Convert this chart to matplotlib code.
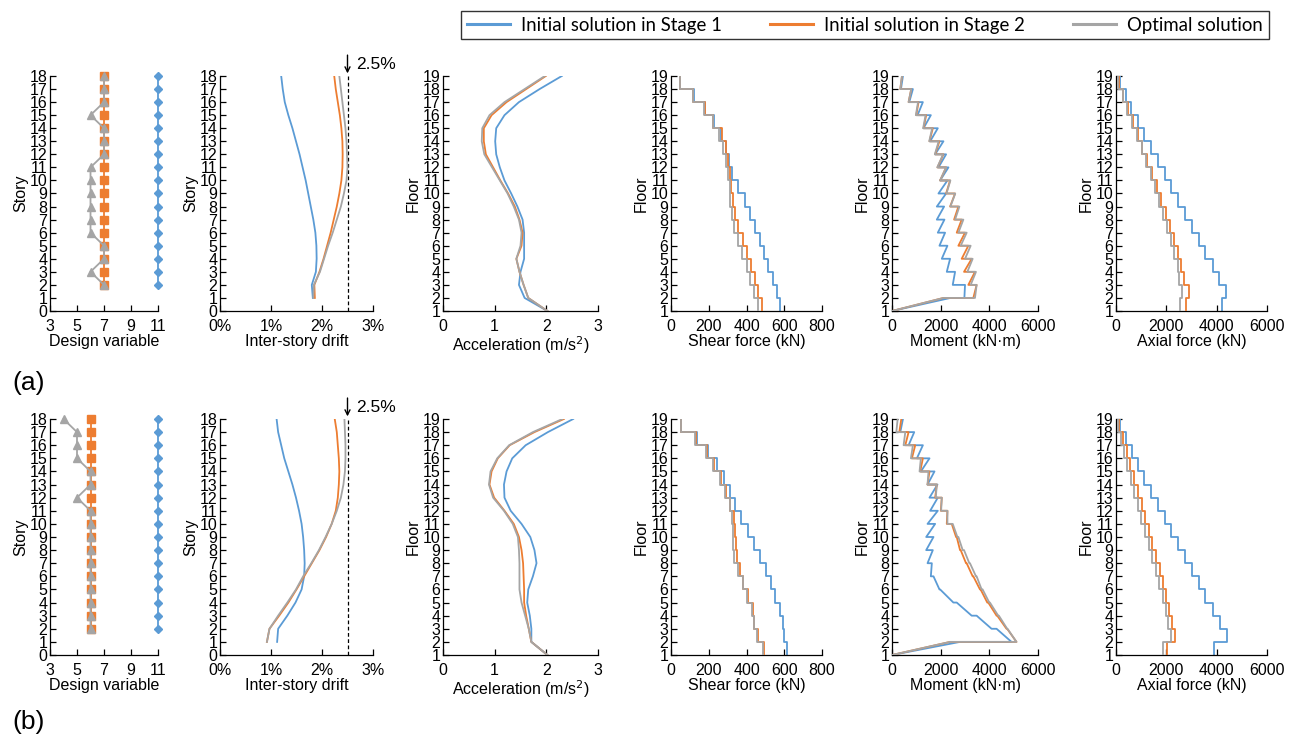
import numpy as np
import matplotlib
matplotlib.use("Agg")
import matplotlib.pyplot as plt
from matplotlib.ticker import FuncFormatter

plt.rcParams['font.family'] = ['Liberation Sans', 'DejaVu Sans']

BLUE = '#5B9BD5'
ORANGE = '#ED7D31'
GREY = '#A5A5A5'

# ---------------- data ----------------
stories_dv = list(range(2, 19))          # design variable, stories 2..18
stories = list(range(1, 19))             # stories 1..18
floors = list(range(1, 20))              # floors 1..19

# row (a)
dv_blue_a = [11] * 17
dv_orange_a = [7] * 17
dv_grey_a = [7, 6, 7, 7, 6, 6, 6, 6, 6, 6, 7, 7, 7, 6, 7, 7, 7]

drift_blue_a = [1.82, 1.80, 1.88, 1.895, 1.89, 1.87, 1.83, 1.78, 1.73, 1.68, 1.62, 1.56, 1.49, 1.42, 1.34, 1.27, 1.23, 1.20]
drift_orange_a = [1.86, 1.85, 1.95, 2.03, 2.10, 2.17, 2.23, 2.29, 2.34, 2.38, 2.40, 2.405, 2.40, 2.38, 2.35, 2.31, 2.27, 2.24]
drift_grey_a = [1.83, 1.84, 1.96, 2.04, 2.12, 2.21, 2.29, 2.37, 2.43, 2.48, 2.50, 2.49, 2.48, 2.46, 2.43, 2.40, 2.37, 2.34]

acc_blue_a = [2.02, 1.58, 1.47, 1.50, 1.57, 1.57, 1.57, 1.54, 1.44, 1.32, 1.19, 1.10, 1.03, 1.01, 1.03, 1.19, 1.47, 1.87, 2.30]
acc_orange_a = [2.02, 1.65, 1.56, 1.48, 1.42, 1.52, 1.54, 1.48, 1.39, 1.26, 1.11, 0.97, 0.83, 0.79, 0.79, 0.94, 1.23, 1.61, 1.99]
acc_grey_a = [2.02, 1.65, 1.56, 1.48, 1.42, 1.50, 1.52, 1.47, 1.37, 1.25, 1.10, 0.95, 0.80, 0.75, 0.76, 0.90, 1.19, 1.58, 1.97]

shear_blue_a = [575, 560, 540, 515, 495, 470, 445, 418, 393, 355, 322, 309, 292, 263, 230, 180, 122, 48]
shear_orange_a = [481, 462, 445, 425, 400, 380, 355, 340, 328, 320, 310, 303, 290, 272, 225, 178, 118, 48]
shear_grey_a = [460, 440, 420, 400, 378, 355, 335, 322, 315, 310, 303, 290, 275, 255, 222, 175, 115, 48]

mom_top_blue_a = [2400, 3001, 2592, 2387, 2278, 2182, 2155, 2141, 2223, 2278, 2319, 2223, 2114, 1882, 1596, 1269, 859, 450]
mom_bot_blue_a = [0, 2974, 2496, 2251, 2046, 1950, 1883, 1842, 1842, 1910, 1978, 1910, 1773, 1569, 1296, 1050, 709, 368]
mom_top_orange_a = [2114, 3478, 3410, 3274, 3137, 3001, 2864, 2728, 2592, 2387, 2223, 2114, 1950, 1678, 1405, 1091, 791, 409]
mom_bot_orange_a = [0, 3342, 3137, 2960, 2864, 2728, 2660, 2551, 2387, 2223, 1978, 1869, 1773, 1541, 1296, 996, 682, 341]
mom_top_grey_a = [2114, 3478, 3451, 3315, 3233, 3069, 2933, 2769, 2600, 2400, 2223, 2100, 1920, 1650, 1380, 1070, 791, 409]
mom_bot_grey_a = [0, 3410, 3233, 3096, 3001, 2823, 2728, 2592, 2400, 2240, 1978, 1860, 1760, 1530, 1280, 980, 682, 341]

axial_blue_a = [4197, 4382, 4104, 3838, 3546, 3280, 3015, 2749, 2483, 2191, 1952, 1660, 1394, 1116, 863, 598, 385, 159]
axial_orange_a = [2789, 2882, 2709, 2576, 2483, 2324, 2151, 1979, 1793, 1620, 1448, 1248, 1049, 863, 664, 465, 292, 133]
axial_grey_a = [2550, 2616, 2523, 2444, 2324, 2178, 2019, 1859, 1713, 1554, 1381, 1195, 1023, 823, 624, 425, 266, 93]

# row (b)
dv_blue_b = [11] * 17
dv_orange_b = [6] * 17
dv_grey_b = [6, 6, 6, 6, 6, 6, 6, 6, 6, 6, 5, 6, 6, 5, 5, 5, 4]

drift_blue_b = [1.12, 1.14, 1.32, 1.48, 1.60, 1.65, 1.66, 1.65, 1.63, 1.60, 1.55, 1.49, 1.42, 1.34, 1.26, 1.20, 1.14, 1.11]
drift_orange_b = [0.92, 0.97, 1.16, 1.34, 1.50, 1.65, 1.80, 1.95, 2.08, 2.19, 2.27, 2.31, 2.33, 2.34, 2.33, 2.31, 2.29, 2.25]
drift_grey_b = [0.92, 0.97, 1.14, 1.32, 1.49, 1.63, 1.79, 1.94, 2.07, 2.19, 2.29, 2.37, 2.42, 2.45, 2.46, 2.46, 2.45, 2.44]

acc_blue_b = [2.02, 1.71, 1.71, 1.68, 1.63, 1.65, 1.74, 1.81, 1.77, 1.69, 1.52, 1.31, 1.19, 1.18, 1.23, 1.34, 1.60, 2.03, 2.52]
acc_orange_b = [2.02, 1.71, 1.66, 1.61, 1.57, 1.57, 1.56, 1.55, 1.52, 1.47, 1.37, 1.19, 0.99, 0.90, 0.94, 1.06, 1.29, 1.77, 2.34]
acc_grey_b = [2.02, 1.71, 1.66, 1.59, 1.52, 1.48, 1.48, 1.48, 1.47, 1.45, 1.35, 1.18, 0.97, 0.89, 0.92, 1.05, 1.28, 1.74, 2.31]

shear_blue_b = [614, 600, 593, 575, 552, 529, 503, 473, 441, 407, 370, 340, 310, 283, 242, 198, 136, 51]
shear_orange_b = [494, 460, 442, 432, 407, 384, 363, 352, 343, 340, 336, 313, 292, 265, 230, 190, 130, 51]
shear_grey_b = [487, 455, 440, 428, 402, 379, 357, 336, 331, 327, 322, 310, 288, 262, 225, 185, 128, 51]

mom_top_blue_b = [2796, 4297, 3478, 2660, 1978, 1705, 1637, 1678, 1705, 1773, 1882, 1882, 1869, 1746, 1541, 1269, 914, 450]
mom_bot_blue_b = [0, 4911, 4092, 3274, 2523, 1950, 1596, 1460, 1405, 1405, 1460, 1569, 1541, 1460, 1187, 1023, 682, 341]
mom_top_orange_b = [2387, 4733, 4324, 3956, 3642, 3342, 3069, 2823, 2660, 2455, 2278, 2046, 1841, 1541, 1269, 955, 682, 382]
mom_bot_orange_b = [0, 5115, 4706, 4297, 3915, 3615, 3315, 3042, 2796, 2633, 2251, 2005, 1773, 1460, 1160, 818, 546, 300]
mom_top_grey_b = [2387, 4747, 4392, 4024, 3724, 3478, 3205, 2960, 2728, 2496, 2278, 2046, 1841, 1500, 1187, 859, 546, 232]
mom_bot_grey_b = [0, 5115, 4733, 4365, 3997, 3683, 3451, 3178, 2905, 2687, 2278, 2019, 1800, 1460, 1132, 777, 477, 177]

axial_blue_b = [3904, 4409, 4143, 3851, 3546, 3280, 3015, 2749, 2457, 2191, 1952, 1660, 1394, 1129, 890, 624, 385, 159]
axial_orange_b = [2019, 2351, 2218, 2112, 1992, 1886, 1753, 1594, 1448, 1315, 1155, 1023, 863, 717, 558, 425, 266, 133]
axial_grey_b = [1886, 2191, 2085, 1979, 1859, 1727, 1594, 1448, 1301, 1155, 996, 863, 717, 584, 452, 319, 186, 66]

legend_labels = ['Initial solution in Stage 1', 'Initial solution in Stage 2', 'Optimal solution']
drift_limit = 2.5

# ---------------- helpers ----------------
W, H = 1293, 742
fig = plt.figure(figsize=(W / 100, H / 100), dpi=100)


def add_ax(x0, x1, ytop, ybot):
    return fig.add_axes([x0 / W, 1 - ybot / H, (x1 - x0) / W, (ybot - ytop) / H])


def style(ax, xlim, xticks, ylim, ylabel, xlabel):
    ax.set_xlim(*xlim)
    ax.set_xticks(xticks)
    ax.set_ylim(*ylim)
    ax.set_yticks(range(ylim[0], ylim[1] + 1))
    for s in ('top', 'right'):
        ax.spines[s].set_visible(False)
    for s in ('left', 'bottom'):
        ax.spines[s].set_color('#000000')
        ax.spines[s].set_linewidth(0.9)
    ax.tick_params(direction='in', length=4, width=0.9, labelsize=11.5, colors='black')
    ax.tick_params(axis='x', pad=6)
    ax.tick_params(axis='y', pad=2)
    ax.set_ylabel(ylabel, fontsize=11.5, labelpad=1)
    ax.set_xlabel(xlabel, fontsize=11.5, labelpad=0)
    ax.patch.set_alpha(0)


def shear_xy(vals):
    s = np.array(stories)[::-1]
    v = np.array(vals, dtype=float)[::-1]
    x = np.repeat(v, 2)
    y = np.column_stack([s + 1, s]).ravel()
    return x, y


def moment_xy(top, bot):
    s = np.array(stories)[::-1]
    t = np.array(top, dtype=float)[::-1]
    b = np.array(bot, dtype=float)[::-1]
    x = np.column_stack([t, b]).ravel()
    y = np.column_stack([s + 1, s]).ravel()
    return x, y


cols = [(50, 158), (220, 373), (443, 598), (671, 822), (892, 1038), (1116, 1267)]
rows = [(76, 311), (419, 655)]

datasets = [
    dict(dv=(dv_blue_a, dv_orange_a, dv_grey_a), drift=(drift_blue_a, drift_orange_a, drift_grey_a),
         acc=(acc_blue_a, acc_orange_a, acc_grey_a), shear=(shear_blue_a, shear_orange_a, shear_grey_a),
         mom=((mom_top_blue_a, mom_bot_blue_a), (mom_top_orange_a, mom_bot_orange_a), (mom_top_grey_a, mom_bot_grey_a)),
         axial=(axial_blue_a, axial_orange_a, axial_grey_a)),
    dict(dv=(dv_blue_b, dv_orange_b, dv_grey_b), drift=(drift_blue_b, drift_orange_b, drift_grey_b),
         acc=(acc_blue_b, acc_orange_b, acc_grey_b), shear=(shear_blue_b, shear_orange_b, shear_grey_b),
         mom=((mom_top_blue_b, mom_bot_blue_b), (mom_top_orange_b, mom_bot_orange_b), (mom_top_grey_b, mom_bot_grey_b)),
         axial=(axial_blue_b, axial_orange_b, axial_grey_b)),
]

colors = [BLUE, ORANGE, GREY]
LW = 1.3
handles = []

for r, (ytop, ybot) in enumerate(rows):
    d = datasets[r]

    # design variable
    ax = add_ax(*cols[0], ytop, ybot)
    ax.plot(d['dv'][0], stories_dv, color=BLUE, lw=LW, marker='D', ms=4, zorder=2, clip_on=False)
    ax.plot(d['dv'][1], stories_dv, color=ORANGE, lw=LW, marker='s', ms=5.5, zorder=3, clip_on=False)
    ax.plot(d['dv'][2], stories_dv, color=GREY, lw=LW, marker='^', ms=5.5, zorder=4, clip_on=False)
    style(ax, (3, 11), [3, 5, 7, 9, 11], (0, 18), 'Story', 'Design variable')

    # drift
    ax = add_ax(*cols[1], ytop, ybot)
    for c, vals, z in zip(colors, d['drift'], (2, 3, 4)):
        h, = ax.plot(vals, stories, color=c, lw=LW, zorder=z)
        if r == 0:
            handles.append(h)
    ax.axvline(drift_limit, color='black', lw=0.9, ls=(0, (3, 2)))
    ax.xaxis.set_major_formatter(FuncFormatter(lambda v, p: f'{v:.0f}%'))
    style(ax, (0, 3), [0, 1, 2, 3], (0, 18), 'Story', 'Inter-story drift')
    ax.annotate('', xy=(drift_limit, 18.2), xytext=(drift_limit, 19.6),
                arrowprops=dict(arrowstyle='->', color='black', lw=1.0,
                                shrinkA=0, shrinkB=0, mutation_scale=9),
                annotation_clip=False)
    ax.text(drift_limit + 0.17, 18.9, '2.5%', fontsize=12.5, ha='left', va='center',
            clip_on=False)

    # acceleration
    ax = add_ax(*cols[2], ytop, ybot)
    for c, vals, z in zip(colors, d['acc'], (2, 3, 4)):
        ax.plot(vals, floors, color=c, lw=LW, zorder=z)
    style(ax, (0, 3), [0, 1, 2, 3], (1, 19), 'Floor', 'Acceleration (m/s$^2$)')

    # shear
    ax = add_ax(*cols[3], ytop, ybot)
    for c, vals, z in zip(colors, d['shear'], (2, 3, 4)):
        x, y = shear_xy(vals)
        ax.plot(x, y, color=c, lw=LW, zorder=z)
    style(ax, (0, 800), [0, 200, 400, 600, 800], (1, 19), 'Floor', 'Shear force (kN)')

    # moment
    ax = add_ax(*cols[4], ytop, ybot)
    for c, (t, b), z in zip(colors, d['mom'], (2, 3, 4)):
        x, y = moment_xy(t, b)
        ax.plot(x, y, color=c, lw=LW, zorder=z)
    style(ax, (0, 6000), [0, 2000, 4000, 6000], (1, 19), 'Floor', 'Moment (kN\u00b7m)')

    # axial
    ax = add_ax(*cols[5], ytop, ybot)
    for c, vals, z in zip(colors, d['axial'], (2, 3, 4)):
        x, y = shear_xy(vals)
        ax.plot(x, y, color=c, lw=LW, zorder=z)
    style(ax, (0, 6000), [0, 2000, 4000, 6000], (1, 19), 'Floor', 'Axial force (kN)')

fig.text(12 / W, 1 - 383 / H, '(a)', fontsize=19, ha='left', va='center')
fig.text(12 / W, 1 - 722 / H, '(b)', fontsize=19, ha='left', va='center')

leg = fig.legend(handles, legend_labels, loc='center', ncol=3,
                 bbox_to_anchor=(865 / W, 1 - 25 / H), frameon=True, fancybox=False,
                 edgecolor='black', handlelength=2.3, handletextpad=0.6,
                 columnspacing=2.6, borderpad=0.3,
                 prop={'family': ['Lato', 'DejaVu Sans'], 'size': 13.4})
leg.get_frame().set_linewidth(1.0)
for lh in leg.get_lines():
    lh.set_linewidth(2.2)

fig.savefig('out.png', dpi=100)
